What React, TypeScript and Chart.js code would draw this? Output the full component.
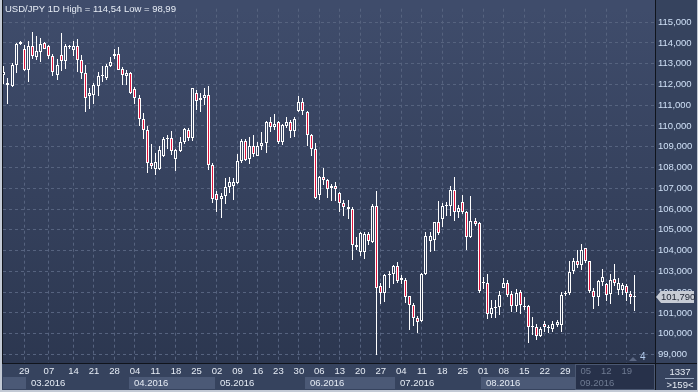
import React, { useEffect, useRef } from 'react';
import { Chart, registerables } from 'chart.js';

Chart.register(...registerables);

const W = 698;
const H = 392;

const opens = [
  112.44, 112.05, 111.92, 112.95, 113.94, 113.73, 112.68, 113.86, 113.34, 113.57,
  113.98, 113.86, 113.39, 112.47, 113.42, 113.15, 113.80, 113.67, 113.83, 113.20,
  112.57, 111.42, 111.47, 111.94, 112.39, 112.33, 112.88, 113.35, 113.46, 112.72,
  112.41, 112.57, 111.78, 111.34, 110.35, 109.80, 108.23, 107.93, 107.91, 108.54,
  109.35, 109.41, 108.43, 108.80, 109.22, 109.83, 109.42, 111.58, 111.25, 111.37,
  111.50, 108.12, 106.73, 106.47, 106.62, 107.05, 107.12, 107.25, 108.32, 109.26,
  108.40, 109.03, 108.55, 109.03, 109.17, 110.21, 109.95, 110.21, 109.25, 110.00,
  110.21, 109.77, 110.71, 111.15, 110.68, 109.56, 108.87, 106.67, 107.56, 107.38,
  107.00, 107.09, 106.75, 106.31, 106.12, 106.02, 104.26, 103.95, 103.95, 104.81,
  104.42, 106.15, 102.30, 101.98, 102.82, 102.85, 103.24, 102.69, 102.57, 101.80,
  101.40, 100.77, 100.62, 102.85, 104.45, 104.50, 105.36, 105.52, 106.15, 106.15,
  106.94, 105.84, 106.34, 105.84, 104.66, 105.41, 105.32, 102.45, 102.45, 100.93,
  101.23, 101.28, 102.22, 102.46, 101.90, 101.31, 102.02, 101.30, 101.31, 100.33,
  100.30, 99.89, 100.46, 100.29, 100.21, 100.44, 100.44, 101.93, 101.95, 103.00,
  103.51, 103.32, 104.11, 103.48, 102.06, 101.75, 102.50, 102.41, 101.91, 102.61,
  102.09, 102.09, 102.30, 101.90, 101.78,
];
const highs = [
  112.88, 112.33, 113.02, 114.01, 114.09, 113.89, 114.09, 114.54, 114.33, 114.25,
  114.05, 113.89, 113.46, 113.23, 114.49, 113.94, 113.89, 114.09, 114.20, 113.42,
  112.95, 111.84, 112.05, 112.60, 112.91, 112.99, 113.31, 113.73, 113.78, 112.83,
  112.68, 112.60, 111.89, 111.50, 110.63, 110.01, 109.14, 108.70, 109.02, 109.49,
  109.57, 109.74, 108.90, 109.49, 109.90, 109.90, 111.84, 111.73, 111.58, 111.81,
  111.94, 108.23, 106.86, 106.75, 107.49, 107.53, 107.49, 108.63, 109.37, 109.37,
  109.48, 109.56, 109.22, 109.69, 110.24, 110.43, 110.58, 110.24, 110.08, 110.44,
  110.27, 110.44, 111.45, 111.34, 110.74, 109.61, 109.18, 107.60, 107.96, 107.44,
  107.22, 107.30, 106.81, 106.43, 106.43, 106.12, 104.66, 104.92, 104.89, 104.92,
  106.23, 106.86, 102.46, 102.88, 103.01, 103.32, 103.43, 102.82, 102.66, 101.83,
  101.47, 100.84, 102.93, 104.89, 104.89, 105.40, 106.39, 106.27, 106.34, 107.09,
  107.53, 106.20, 106.70, 105.92, 106.62, 105.55, 105.36, 102.72, 102.88, 101.64,
  101.64, 102.06, 102.66, 102.57, 102.06, 102.14, 102.09, 101.75, 101.36, 100.80,
  100.49, 100.30, 100.62, 100.44, 100.62, 100.68, 102.02, 102.06, 103.51, 103.63,
  104.03, 104.34, 104.14, 103.51, 102.19, 102.57, 103.13, 102.46, 102.85, 103.35,
  102.69, 102.46, 102.41, 102.06, 102.82,
];
const lows = [
  112.00, 111.06, 111.88, 112.55, 113.90, 112.66, 112.13, 113.23, 113.18, 113.10,
  113.70, 113.23, 112.39, 112.21, 112.63, 112.72, 113.73, 113.39, 112.60, 112.28,
  110.68, 110.84, 111.07, 111.42, 112.10, 112.21, 112.83, 113.23, 112.68, 111.97,
  111.97, 111.53, 111.07, 110.01, 109.38, 107.73, 107.91, 107.65, 107.88, 108.51,
  108.90, 108.59, 107.85, 108.75, 109.14, 109.30, 109.27, 110.79, 110.68, 111.03,
  107.88, 106.28, 105.84, 105.57, 106.23, 106.78, 106.43, 107.22, 108.24, 108.30,
  108.19, 108.51, 108.55, 108.82, 108.71, 109.69, 109.80, 109.14, 109.09, 109.88,
  109.42, 109.48, 110.68, 110.52, 109.03, 108.56, 106.50, 106.43, 107.17, 106.54,
  106.40, 106.40, 105.87, 105.65, 105.52, 103.56, 104.03, 103.76, 103.60, 104.26,
  104.39, 98.99, 101.43, 101.51, 102.19, 102.41, 102.46, 102.38, 101.46, 100.18,
  100.37, 100.05, 100.57, 102.82, 103.92, 103.98, 104.74, 105.13, 105.65, 105.68,
  105.44, 105.55, 105.76, 104.03, 104.61, 105.17, 101.98, 102.14, 100.73, 100.77,
  100.77, 100.88, 102.19, 101.75, 101.04, 101.04, 100.96, 101.12, 99.55, 99.94,
  99.70, 99.83, 100.10, 100.02, 100.10, 100.30, 100.10, 101.83, 101.87, 102.85,
  103.16, 103.08, 103.40, 101.98, 101.20, 101.31, 102.30, 101.56, 101.43, 102.30,
  101.87, 101.87, 101.59, 101.43, 101.07,
];
const closes = [
  112.60, 111.95, 112.95, 113.94, 114.05, 112.68, 113.86, 113.35, 113.62, 113.94,
  113.73, 113.39, 112.60, 112.95, 113.15, 113.86, 113.83, 113.86, 113.18, 112.57,
  111.37, 111.58, 111.97, 112.41, 112.44, 112.91, 113.10, 113.46, 112.71, 112.44,
  112.57, 111.61, 111.34, 110.35, 109.80, 108.23, 108.07, 108.28, 108.86, 109.38,
  109.41, 108.80, 108.86, 109.22, 109.85, 109.42, 111.81, 111.22, 111.37, 111.50,
  108.12, 106.47, 106.43, 106.62, 107.05, 107.30, 107.30, 108.32, 109.26, 108.38,
  109.03, 108.67, 109.03, 109.17, 110.21, 109.95, 110.11, 109.25, 110.03, 110.21,
  109.77, 110.36, 111.15, 110.71, 109.56, 108.87, 106.51, 107.56, 107.38, 106.98,
  107.09, 106.98, 106.31, 106.10, 105.99, 104.26, 104.17, 104.85, 104.81, 104.45,
  106.15, 102.22, 101.98, 102.82, 102.88, 103.24, 102.53, 102.58, 101.75, 101.36,
  100.77, 100.57, 102.88, 104.70, 104.70, 105.36, 104.86, 106.15, 106.18, 106.94,
  105.84, 106.07, 105.84, 104.66, 105.44, 105.28, 102.06, 102.48, 100.93, 101.25,
  101.25, 101.86, 102.46, 101.87, 101.31, 101.95, 101.36, 101.31, 100.33, 100.35,
  99.91, 100.25, 100.33, 100.33, 100.49, 100.57, 101.86, 101.95, 102.97, 103.48,
  103.29, 104.03, 103.48, 102.06, 101.78, 102.53, 102.72, 101.87, 102.57, 102.46,
  102.46, 102.35, 101.94, 101.78, 101.79,
];

// Monday ticks (trading-day index) and their labels
const tickIndex = [5, 11, 17, 22, 27, 32, 37, 42, 47, 52, 57, 62, 67, 72, 77, 82, 87, 92, 97, 102, 107, 112, 117, 122, 127, 132, 137, 142, 147, 152];
const tickLabels = ['29', '07', '14', '21', '28', '04', '11', '18', '25', '02', '09', '16', '23', '30', '06', '13', '20', '27', '04', '11', '18', '25', '01', '08', '15', '22', '29', '05', '12', '19'];
// First trading-day index of each month
const monthStart = [0, 6, 31, 52, 74, 96, 117, 140];
const monthLabels = ['02.2016', '03.2016', '04.2016', '05.2016', '06.2016', '07.2016', '08.2016', '09.2016'];
const yTicks = [99, 100, 101, 102, 103, 104, 105, 106, 107, 108, 109, 110, 111, 112, 113, 114, 115];
const lastPrice = 101.79;
const titleText = 'USD/JPY 1D High = 114,54 Low = 98,99';
const cornerTop = '1337';
const cornerBottom = '>159<';
const countText = '4';

const FONT = 'Liberation Sans';
const RED = '#e0143c';
const GRID = '#56637f';
const AXIS_BG = '#36435e';
const LABEL = '#e6ecf5';
const YLABEL = '#cfe0f6';
const GRAYLABEL = '#6f7b92';

const fmt = (v: number, d: number) => v.toFixed(d).replace('.', ',');

const bgPlugin = {
  id: 'bgPlugin',
  afterLayout(chart: any) {
    const { ctx, chartArea } = chart;
    const g = ctx.createLinearGradient(0, chartArea.top, 0, chartArea.bottom);
    g.addColorStop(0, '#3f4c6b');
    g.addColorStop(1, '#2c3750');
    chart.$bg = g;
  },
  beforeDraw(chart: any) {
    const { ctx, chartArea, scales } = chart;
    const { right, bottom } = chartArea;
    ctx.save();
    ctx.fillStyle = AXIS_BG;
    ctx.fillRect(0, 0, W, H);
    ctx.fillStyle = chart.$bg;
    ctx.fillRect(0, 0, right, bottom);
    // month bands
    const xs = scales.x;
    for (let m = 0; m < monthStart.length; m++) {
      const x0 = Math.max(3, Math.round(xs.getPixelForValue(monthStart[m] - 0.5)));
      const x1 = m + 1 < monthStart.length ? Math.round(xs.getPixelForValue(monthStart[m + 1] - 0.5)) : right;
      if (m === monthStart.length - 1) {
        ctx.fillStyle = '#27314a';
        ctx.fillRect(x0, bottom + 1, right - x0, H - bottom - 3);
        ctx.strokeStyle = '#4b5872';
        ctx.strokeRect(x0 + 0.5, bottom + 1.5, right - x0 - 1, H - bottom - 4);
      } else if (m % 2 === 0) {
        ctx.fillStyle = '#4b5976';
        ctx.fillRect(x0, 377, x1 - x0, 12);
      }
    }
    ctx.restore();
  },
};

const snapPlugin = {
  id: 'snapPlugin',
  beforeDatasetsDraw(chart: any) {
    chart.data.datasets.forEach((_: any, di: number) => {
      const meta = chart.getDatasetMeta(di);
      meta.data.forEach((el: any) => {
        const w = el.width;
        el.x = Math.round(el.x - w / 2) + w / 2;
        const t = Math.round(Math.min(el.y, el.base));
        let b = Math.round(Math.max(el.y, el.base));
        if (b - t < 1) b = t + 1;
        el.y = t;
        el.base = b;
      });
    });
  },
};

const overlayPlugin = {
  id: 'overlayPlugin',
  afterDraw(chart: any) {
    const { ctx, chartArea, scales } = chart;
    const { right, bottom } = chartArea;
    const xs = scales.x;
    const ys = scales.y;
    ctx.save();
    // frame lines
    ctx.strokeStyle = '#10141c';
    ctx.lineWidth = 1;
    ctx.beginPath();
    ctx.moveTo(right + 0.5, 0);
    ctx.lineTo(right + 0.5, H);
    ctx.moveTo(0, bottom + 0.5);
    ctx.lineTo(W, bottom + 0.5);
    ctx.moveTo(2.5, 0);
    ctx.lineTo(2.5, bottom);
    ctx.stroke();
    // outer light frame
    ctx.fillStyle = '#c3cad5';
    ctx.fillRect(0, 0, 2, H);
    ctx.fillRect(0, H - 2, W, 2);
    ctx.fillRect(W - 1, 0, 1, H);

    // title
    ctx.fillStyle = LABEL;
    ctx.font = `9.5px ${FONT}`;
    ctx.textBaseline = 'middle';
    ctx.textAlign = 'left';
    ctx.fillText(titleText, 5, 9);

    // month labels
    for (let m = 0; m < monthStart.length; m++) {
      const x0 = xs.getPixelForValue(monthStart[m] - 0.5);
      const x1 = m + 1 < monthStart.length ? xs.getPixelForValue(monthStart[m + 1] - 0.5) : right;
      if (x1 - x0 < 40) continue;
      ctx.fillStyle = m === monthStart.length - 1 ? GRAYLABEL : LABEL;
      ctx.fillText(monthLabels[m], Math.round(x0) + 5, 383);
    }

    // count marker
    ctx.fillStyle = '#5b6782';
    ctx.beginPath();
    ctx.moveTo(629, 361);
    ctx.lineTo(633, 357);
    ctx.lineTo(637, 361);
    ctx.closePath();
    ctx.fill();
    ctx.fillStyle = '#b5cdef';
    ctx.font = `10px ${FONT}`;
    ctx.fillText(countText, 640, 357);

    // price tag
    const py = Math.round(ys.getPixelForValue(lastPrice));
    ctx.fillStyle = '#c7ccd5';
    ctx.beginPath();
    ctx.moveTo(656, py);
    ctx.lineTo(661, py - 6);
    ctx.lineTo(694, py - 6);
    ctx.lineTo(694, py + 6);
    ctx.lineTo(661, py + 6);
    ctx.closePath();
    ctx.fill();
    ctx.fillStyle = '#1b2231';
    ctx.font = `9.5px ${FONT}`;
    ctx.fillText(fmt(lastPrice, 3), 661, py + 0.5);

    // corner box
    ctx.fillStyle = LABEL;
    ctx.textAlign = 'center';
    ctx.fillText(cornerTop, 680, 372);
    ctx.fillText(cornerBottom, 680, 385);
    ctx.strokeStyle = '#9aa8c0';
    ctx.beginPath();
    ctx.moveTo(665, 378.5);
    ctx.lineTo(694, 378.5);
    ctx.stroke();
    ctx.restore();
  },
};

export default function App() {
  const ref = useRef<HTMLCanvasElement>(null);
  useEffect(() => {
    const canvas = ref.current;
    if (!canvas) return;
    const idx = opens.map((_, i) => i);
    const bodies = idx.map((i) => ({ x: i, y: [Math.min(opens[i], closes[i]), Math.max(opens[i], closes[i])] }));
    const wicks = idx.map((i) => ({ x: i, y: [lows[i], highs[i]] }));
    const chart = new Chart(canvas, {
      type: 'bar',
      data: {
        datasets: [
          {
            data: bodies as any,
            order: 0,
            grouped: false,
            barThickness: 3,
            borderWidth: 1,
            borderColor: '#ffffff',
            borderSkipped: false,
            inflateAmount: 0,
            minBarLength: 1,
            backgroundColor: (c: any) => {
              const i = c.dataIndex;
              if (i === undefined) return RED;
              return closes[i] >= opens[i] ? (c.chart.$bg || '#36425e') : RED;
            },
          } as any,
          {
            data: wicks as any,
            order: 1,
            grouped: false,
            barThickness: 1,
            borderWidth: 0,
            inflateAmount: 0,
            backgroundColor: '#ffffff',
          } as any,
        ],
      },
      options: {
        responsive: false,
        animation: false,
        events: [],
        layout: { padding: { left: 3, top: 2, right: 0, bottom: 0 } },
        plugins: { legend: { display: false }, tooltip: { enabled: false }, title: { display: false } },
        scales: {
          x: {
            type: 'linear',
            min: -0.2,
            max: 158.9,
            offset: false,
            grid: { offset: false, color: GRID, drawTicks: false, lineWidth: 1 },
            border: { display: false, dash: [3, 3] },
            afterBuildTicks: (s: any) => {
              s.ticks = tickIndex.map((v) => ({ value: v }));
            },
            afterFit: (s: any) => {
              s.height = 29;
            },
            ticks: {
              autoSkip: false,
              maxRotation: 0,
              minRotation: 0,
              padding: 3,
              font: { family: FONT, size: 9.5 },
              color: (c: any) => (c.tick && c.tick.value >= monthStart[monthStart.length - 1] ? GRAYLABEL : LABEL),
              callback: (_v: any, i: number) => tickLabels[i],
            },
          },
          y: {
            position: 'right',
            min: 98.589,
            max: 115.647,
            grid: { color: GRID, drawTicks: false, lineWidth: 1 },
            border: { display: false, dash: [3, 3] },
            afterBuildTicks: (s: any) => {
              s.ticks = yTicks.map((v) => ({ value: v }));
            },
            afterFit: (s: any) => {
              s.width = 43;
            },
            ticks: {
              padding: 3,
              font: { family: FONT, size: 9.5 },
              color: YLABEL,
              callback: (v: any) => fmt(Number(v), 3),
            },
          },
        },
      } as any,
      plugins: [bgPlugin, snapPlugin, overlayPlugin],
    });
    return () => chart.destroy();
  }, []);
  return (
    <div style={{ position: 'absolute', left: 0, top: 0, width: W, height: H }}>
      <canvas ref={ref} width={W} height={H} style={{ display: 'block', width: W, height: H }} />
    </div>
  );
}
